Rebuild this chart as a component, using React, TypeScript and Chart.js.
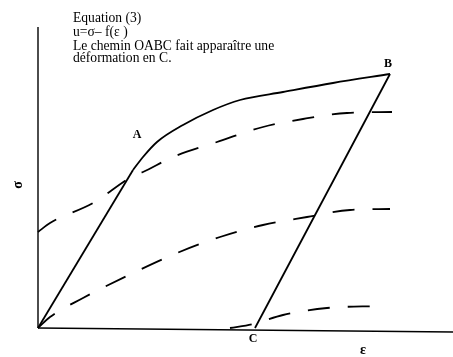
import React, { useEffect, useRef } from "react";
import { Chart, registerables } from "chart.js";

Chart.register(...registerables);

// Path O -> A (elastic loading), A -> B (hardening curve), B -> C (unloading)
const oaEps = [0, 95];
const oaSig = [0, 158];
const abEps = [95, 105, 119, 145, 175, 202, 245, 295, 352];
const abSig = [158, 171, 186, 203, 218, 228, 236, 245, 254];
const bcEps = [352, 217];
const bcSig = [254, 0];

// Dashed iso-u curves
const dash1Eps = [0, 12, 55, 95, 105, 135, 179, 225, 265, 309, 354];
const dash1Sig = [96, 105, 125, 152, 156, 171, 186, 201, 209, 215, 216];
const dash2Eps = [0, 12, 45, 95, 139, 182, 225, 269, 312, 352];
const dash2Sig = [0, 11, 30, 55, 75, 91, 103, 111, 118, 119];
const dash3Eps = [192, 215, 245, 289, 342];
const dash3Sig = [0, 4, 13, 20, 22];

// Axes
const xAxisEps = [0, 415];
const xAxisSig = [0, -4];
const yAxisEps = [0, 0];
const yAxisSig = [0, 301];

const titleLines = [
  "Equation (3)",
  "u=σ– f(ε )",
  "Le chemin OABC fait apparaître une",
  "déformation en C.",
];
const titleBaselines = [22, 35.5, 49.5, 62];
const pointLabels = ["A", "B", "C"];
const pointLabelEps = [99, 350, 215];
const pointLabelSig = [190, 261, -14];

const zip = (xs: number[], ys: number[]) => xs.map((x, i) => ({ x, y: ys[i] }));

const textPlugin = {
  id: "texts",
  afterDatasetsDraw(chart: any) {
    const ctx = chart.ctx;
    const xs = chart.scales.x;
    const ys = chart.scales.y;
    ctx.save();
    ctx.fillStyle = "#000";
    ctx.textBaseline = "alphabetic";
    ctx.font = "13.6px 'Liberation Serif'";
    ctx.textAlign = "left";
    titleLines.forEach((t, i) => {
      ctx.fillText(t, 73, titleBaselines[i]);
    });
    ctx.font = "bold 12px 'Liberation Serif'";
    ctx.textAlign = "center";
    pointLabels.forEach((t, i) => {
      ctx.fillText(t, xs.getPixelForValue(pointLabelEps[i]), ys.getPixelForValue(pointLabelSig[i]));
    });
    // axis titles
    ctx.font = "bold 14px 'Liberation Serif'";
    ctx.fillText("ε", xs.getPixelForValue(325), ys.getPixelForValue(-26));
    ctx.save();
    ctx.translate(xs.getPixelForValue(-20), ys.getPixelForValue(143));
    ctx.rotate(-Math.PI / 2);
    ctx.textBaseline = "middle";
    ctx.fillText("σ", 0, 0);
    ctx.restore();
    ctx.restore();
  },
};

export default function App() {
  const ref = useRef<HTMLCanvasElement>(null);
  useEffect(() => {
    if (!ref.current) return;
    const solid = (data: { x: number; y: number }[], label: string, curved: boolean) => ({
      label,
      data,
      borderColor: "#000",
      borderWidth: 1.8,
      pointRadius: 0,
      showLine: true,
      fill: false,
      ...(curved ? { cubicInterpolationMode: "monotone" } : { tension: 0 }),
    });
    const dashed = (data: { x: number; y: number }[], label: string) => ({
      label,
      data,
      borderColor: "#000",
      borderWidth: 1.8,
      borderDash: [22, 18],
      pointRadius: 0,
      cubicInterpolationMode: "monotone",
      showLine: true,
      fill: false,
    });
    const chart = new Chart(ref.current, {
      type: "scatter",
      data: {
        datasets: [
          solid(zip(oaEps, oaSig), "OA", false),
          solid(zip(abEps, abSig), "AB", true),
          solid(zip(bcEps, bcSig), "BC", false),
          dashed(zip(dash1Eps, dash1Sig), "u1"),
          dashed(zip(dash2Eps, dash2Sig), "u2"),
          dashed(zip(dash3Eps, dash3Sig), "u3"),
          {
            label: "xaxis",
            data: zip(xAxisEps, xAxisSig),
            borderColor: "#000",
            borderWidth: 1.6,
            pointRadius: 0,
            showLine: true,
          },
          {
            label: "yaxis",
            data: zip(yAxisEps, yAxisSig),
            borderColor: "#000",
            borderWidth: 1.4,
            pointRadius: 0,
            showLine: true,
          },
        ] as any,
      },
      options: {
        animation: false,
        responsive: false,
        layout: { padding: 0 },
        plugins: { legend: { display: false }, tooltip: { enabled: false }, title: { display: false } },
        scales: {
          x: { type: "linear", display: false, min: -38, max: 415 },
          y: { type: "linear", display: false, min: -29, max: 328 },
        },
      },
      plugins: [textPlugin],
    });
    return () => chart.destroy();
  }, []);
  return (
    <div style={{ position: "fixed", left: 0, top: 0, width: 453, height: 357, background: "#fff" }}>
      <canvas ref={ref} width={453} height={357} style={{ width: 453, height: 357, display: "block" }} />
    </div>
  );
}
